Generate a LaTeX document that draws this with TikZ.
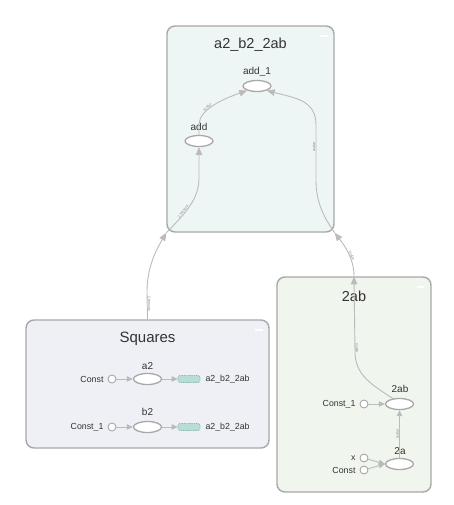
\documentclass[tikz,border=0pt]{standalone}
\usepackage{fontspec}
\setmainfont{Liberation Sans}
\usetikzlibrary{arrows.meta,shapes.geometric}
\definecolor{bordergray}{HTML}{A8A8A8}
\definecolor{edgegray}{HTML}{BBBBBB}
\definecolor{topfill}{HTML}{EEF6F5}
\definecolor{sqfill}{HTML}{EEF0F6}
\definecolor{abfill}{HTML}{F0F5EE}
\definecolor{refill}{HTML}{B8DCD6}
\definecolor{reborder}{HTML}{8CBAB4}
\definecolor{txt}{HTML}{333333}
\begin{document}
\begin{tikzpicture}[x=1pt,y=-1pt,
  groupbox/.style={draw=bordergray, line width=1.4pt, rounded corners=8pt, inner sep=0pt},
  opnode/.style={ellipse, draw=bordergray, fill=white, line width=1.3pt, minimum width=28pt, minimum height=11pt, inner sep=0pt},
  cnode/.style={circle, draw=bordergray, fill=white, line width=0.9pt, minimum size=8pt, inner sep=0pt},
  refnode/.style={rectangle, rounded corners=1.5pt, draw=reborder, dash pattern=on 1pt off 0.7pt, line width=0.6pt, fill=refill, minimum width=22pt, minimum height=7pt, inner sep=0pt},
  edge/.style={draw=edgegray, line width=0.9pt, -{Triangle[length=6pt,width=5.5pt]}},
  bigedge/.style={draw=edgegray, line width=0.9pt, -{Triangle[length=8pt,width=6.5pt]}},
  elabel/.style={font=\fontsize{3.6}{4}\selectfont, text=gray, sloped, inner sep=0.4pt},
  title/.style={font=\fontsize{14.5}{16}\selectfont, text=txt},
  oplabel/.style={font=\fontsize{10}{12}\selectfont, text=txt},
  smalllabel/.style={font=\fontsize{8.8}{10}\selectfont, text=txt},
  minusmark/.style={draw=white, line width=1.6pt}
]
\useasboundingbox (0,0) rectangle (453,505);
\fill[white] (0,0) rectangle (453,505);

% group boxes
\node[groupbox, fill=topfill, minimum width=167pt, minimum height=206pt] (top) at (250.5,129) {};
\node[groupbox, fill=sqfill, minimum width=243pt, minimum height=128pt] (squares) at (147.5,384) {};
\node[groupbox, fill=abfill, minimum width=154pt, minimum height=215pt] (box2ab) at (354,384.5) {};

\draw[minusmark] (320,36) -- (328,36);
\draw[minusmark] (255,330) -- (263,330);
\draw[minusmark] (417,287) -- (424,287);

% titles
\node[title] (ttop) at (250.5,45) {a2\_b2\_2ab};
\node[title, font=\fontsize{15}{17}\selectfont] (tsq) at (147.5,339) {Squares};
\node[title] (tab) at (354,296) {2ab};

% top group contents
\node[opnode] (add1) at (257,86) {};
\node[oplabel] (ladd1) at (257,72) {add\_1};
\node[opnode] (add) at (199,141) {};
\node[oplabel] (ladd) at (199,127) {add};

% Squares contents
\node[opnode] (a2) at (147.5,379) {};
\node[oplabel] (la2) at (147.5,366) {a2};
\node[cnode] (ca) at (112,379) {};
\node[smalllabel, anchor=east] (lca) at (107,379) {Const};
\node[refnode] (ra) at (189,379) {};
\node[smalllabel, anchor=west] (lra) at (202,379) {a2\_b2\_2ab};

\node[opnode] (b2) at (147.5,427) {};
\node[oplabel] (lb2) at (147.5,412) {b2};
\node[cnode] (cb) at (112,427) {};
\node[smalllabel, anchor=east] (lcb) at (107,427) {Const\_1};
\node[refnode] (rb) at (189,427) {};
\node[smalllabel, anchor=west] (lrb) at (202,427) {a2\_b2\_2ab};

% 2ab contents
\node[opnode] (n2ab) at (399.5,404) {};
\node[oplabel] (ln2ab) at (400,389) {2ab};
\node[cnode] (c1) at (364,404) {};
\node[smalllabel, anchor=east] (lc1) at (359,404) {Const\_1};
\node[opnode] (n2a) at (399.5,464) {};
\node[oplabel] (ln2a) at (400,451) {2a};
\node[cnode] (cx) at (364,458) {};
\node[smalllabel, anchor=east] (lcx) at (359,458) {x};
\node[cnode] (cc) at (364,470) {};
\node[smalllabel, anchor=east] (lcc) at (359,470) {Const};

% edges in Squares
\draw[edge] (ca) -- (a2);
\draw[edge] (a2) -- (ra);
\draw[edge] (cb) -- (b2);
\draw[edge] (b2) -- (rb);

% edges in 2ab
\draw[edge] (c1) -- (n2ab);
\draw[edge] (cx) -- (n2a.west);
\draw[edge] (cc) -- (n2a.west);
\draw[edge] (n2a) -- node[elabel, above] {scalar} (n2ab);
\draw[bigedge] (n2ab.140) .. controls (372,385) and (355,375) .. (355,352)
   -- node[elabel, above, pos=0.05] {scalar} (box2ab.north);

% between groups
\draw[bigedge] (squares.north) -- (147,292) node[elabel, above, pos=0.55] {2 tensors}
   .. controls (147,265) and (158,247) .. (top.south west);
\draw[bigedge] (box2ab.north) .. controls (354,258) and (344,245) .. node[elabel, above, pos=0.4] {scalar} (top.south east);

% edges in top group
\draw[bigedge] (top.south west) .. controls (187,212) and (199,198) .. node[elabel, above, pos=0.35] {2 tensors} (199,178) -- (add.south);
\draw[bigedge] (top.south east) .. controls (322,215) and (316,200) .. (316,180)
   -- node[elabel, above, pos=0.6] {scalar} (316,125) .. controls (316,100) and (295,98) .. (add1.-25);
\draw[bigedge] (add.north) -- (199,124) .. controls (200,110) and (220,100) .. node[elabel, above, pos=0.4] {scalar} (add1.-155);
\end{tikzpicture}
\end{document}
